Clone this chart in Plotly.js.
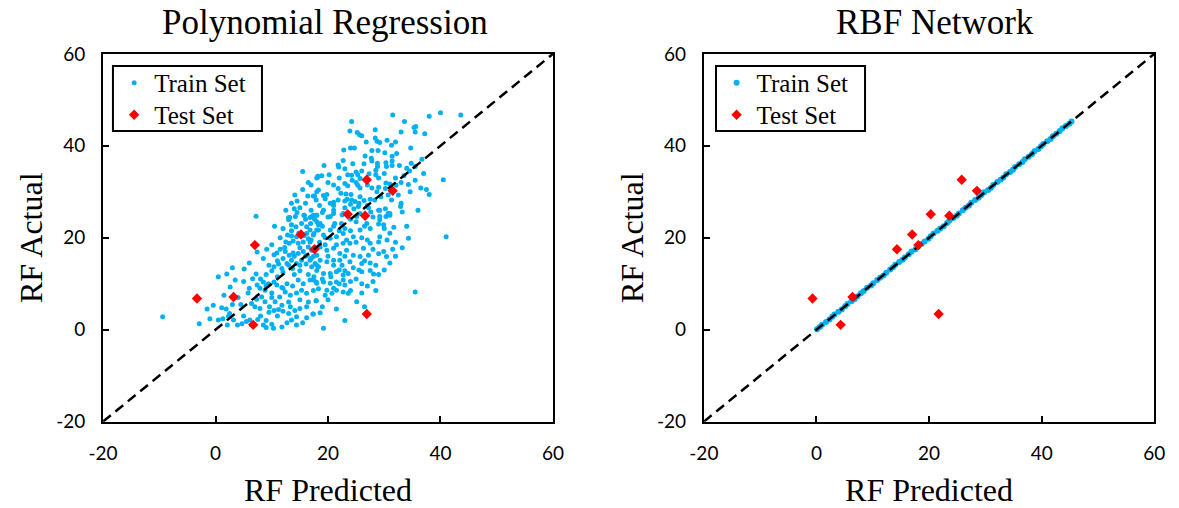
<!DOCTYPE html>
<html>
<head>
<meta charset="utf-8">
<script src="https://cdn.plot.ly/plotly-3.0.1.min.js"></script>
<style>html,body{margin:0;padding:0;background:#fff;}#chart{width:1179px;height:508px;}</style>
</head>
<body>
<div id="chart"></div>
<script>
// ---- Data ----
const titles = ["Polynomial Regression", "RBF Network"];
const axisLabelX = "RF Predicted";
const axisLabelY = "RF Actual";
const tickValues = [-20, 0, 20, 40, 60];
const tickLabels = ["-20", "0", "20", "40", "60"];
const refLine = [-20, 60];

// Polynomial regression, training set: [predicted, actual]
const polyTrain = [
[15.5,34.4],[18.1,33.1],[14.1,29.3],[14.5,28.0],[16.4,29.1],[17.6,29.1],[14.0,26.3],[7.2,24.7],[15.8,24.9],[17.4,24.9],[13.2,24.4],
[31.5,46.7],[38.0,46.4],[40.0,47.2],[43.6,46.7],[24.2,45.3],[33.6,45.3],[35.3,44.0],[35.6,44.2],[28.4,43.5],[23.9,43.2],[25.2,42.9],[25.6,42.4],[26.0,42.2],[33.0,43.0],[35.5,43.0],[37.2,42.6],[28.4,41.7],[26.8,40.8],[28.7,41.0],[29.2,40.7],[30.5,41.2],[32.0,40.8],[22.8,39.1],[24.0,39.5],[24.7,39.5],[27.8,39.0],[28.9,39.0],[31.3,40.1],[34.7,39.5],[30.1,38.5],[32.2,38.3],[26.6,37.8],[27.7,37.3],[27.8,36.7],[28.8,36.2],[30.3,36.3],[31.4,37.7],[31.4,36.7],[22.7,36.8],[21.8,35.8],[21.9,35.4],[24.4,36.1],[26.4,36.1],[19.3,35.7],[28.8,35.5],[28.5,34.7],[30.4,35.5],[31.4,35.7],[32.7,35.7],[34.8,36.2],[36.7,37.1],[34.0,35.1],[34.5,34.5],[35.5,35.5],[20.2,33.7],[18.0,33.0],[18.2,33.4],[18.9,33.5],[23.5,33.7],[24.2,33.6],[25.0,34.3],[25.3,33.7],[25.7,32.9],[27.3,33.9],[24.3,32.5],[23.0,31.8],[23.5,31.3],[25.0,32.0],[25.3,31.4],[25.7,30.8],[28.5,33.7],[30.3,31.9],[31.0,31.7],[30.2,30.7],[32.1,31.4],[27.8,30.8],[29.0,31.0],[28.7,30.0],[34.3,31.6],[34.6,30.0],[36.5,30.8],[37.5,30.5],[38.0,29.4],[40.5,32.6],[18.3,30.4],[19.2,29.2],[19.8,29.4],[21.8,30.7],[22.3,29.7],[23.2,29.5],[24.1,29.4],[17.4,29.1],[17.9,28.2],[20.4,27.5],[21.0,27.7],[21.8,28.2],[23.0,28.0],[23.4,28.4],[24.2,28.2],[25.7,28.9],[26.4,28.1],[27.5,28.4],[28.3,28.2],[29.4,28.9],[30.7,29.3],[31.3,28.2],[32.5,29.3],[30.2,26.3],[31.0,25.3],[32.9,26.8],[33.2,25.6],[29.0,26.0],[29.2,24.6],[19.2,26.0],[18.0,24.9],[16.8,24.4],[20.4,24.6],[21.0,25.3],[22.7,25.3],[24.6,26.3],[25.4,26.8],[25.7,25.3],[27.2,26.5],[27.6,25.6],[24.0,27.3],[24.8,27.9],
[13.0,24.4],[14.2,24.6],[15.7,24.9],[17.2,24.7],[18.0,24.9],[13.0,23.9],[13.5,22.8],[14.3,22.4],[15.3,23.1],[16.2,22.4],[16.9,23.1],[17.6,24.0],[18.3,22.8],[12.8,20.6],[13.5,20.4],[14.4,20.2],[12.5,19.1],[13.1,18.8],[12.3,17.9],[13.8,19.3],[14.7,18.8],[15.6,19.1],[16.5,19.8],[16.2,20.9],[16.8,21.7],[17.5,20.9],[18.3,21.7],[9.1,17.5],[10.9,16.7],[10.4,16.3],[11.5,17.5],[12.4,17.0],[13.1,16.2],[13.8,16.7],[14.7,16.6],[15.6,17.0],[16.3,16.2],[17.1,17.3],[18.0,16.2],[7.4,16.9],[11.2,14.3],[10.4,13.7],[11.8,13.3],[10.0,12.8],[12.7,14.4],[13.5,15.1],[14.4,14.4],[13.7,13.3],[15.3,15.1],[16.1,14.3],[16.8,15.1],[17.7,14.4],[18.3,13.7],[5.1,13.2],[2.0,12.1],[7.2,12.1],[6.6,11.1],[8.5,10.4],[9.4,10.0],[10.4,10.4],[7.4,9.7],[7.9,9.0],[8.8,8.6],[10.9,9.7],[11.8,9.2],[12.7,10.0],[13.7,9.5],[14.7,10.8],[15.6,10.0],[16.8,10.8],[17.9,10.4],[12.4,8.2],[13.3,7.5],[14.4,8.0],[15.3,8.6],[16.2,7.9],[17.4,8.5],[18.3,8.9],[2.6,9.3],[5.8,8.0],[7.3,6.6],[8.2,7.1],[8.8,6.1],[10.0,7.0],[10.6,6.1],[11.4,7.1],[-0.4,5.3],[1.1,4.8],[1.9,4.5],[6.4,5.7],[7.0,5.0],[7.9,4.6],[9.6,5.0],[10.4,4.2],[11.2,4.4],[11.8,5.3],[13.3,5.0],[14.1,4.2],[15.0,4.6],[16.2,5.0],[17.9,6.3],[13.0,3.5],[14.4,2.8],[16.2,2.6],[17.4,3.4],[-1.0,2.4],[0.5,2.1],[1.3,2.4],[2.1,1.0],[-2.9,1.3],[-9.4,2.8],[3.9,1.0],[4.7,1.3],[6.1,2.1],[6.4,1.0],[8.5,1.0],[10.0,1.2],[10.3,0.3],[11.8,0.6],[14.4,1.0],[13.5,2.1],[12.7,1.5],[2.3,2.9],[3.2,2.1],
[30.7,25.3],[29.2,26.0],[30.3,24.6],[31.0,24.9],[31.7,22.3],[29.2,23.9],[29.9,22.8],[34.3,19.9],[41.0,20.2],[33.2,17.8],[29.2,20.2],[29.0,19.1],[29.9,17.0],[30.4,15.9],[27.5,18.8],[26.3,17.7],[27.2,16.2],[25.7,15.9],[26.0,14.4],[27.5,12.9],[28.1,12.1],[26.0,12.6],[23.9,18.8],[24.5,20.2],[22.7,20.9],[21.2,23.1],[20.4,21.7],[22.4,23.1],[25.1,24.6],[26.9,23.1],[25.7,21.7],[18.6,23.1],[18.0,21.7],[19.2,20.6],[17.4,20.6],[16.8,19.1],[20.4,19.9],[21.5,20.2],[22.7,18.8],[23.3,19.5],[18.6,18.0],[19.8,17.3],[21.0,17.7],[22.1,16.6],[23.3,17.3],[17.4,15.9],[18.6,15.1],[19.8,14.8],[21.0,15.1],[22.1,15.1],[23.9,14.8],[24.5,16.2],[17.1,13.7],[18.0,12.9],[19.2,12.2],[20.4,12.2],[21.5,12.6],[22.7,11.9],[23.6,12.2],[17.4,10.8],[18.0,10.1],[19.2,10.4],[20.4,10.1],[21.5,10.4],[22.7,10.8],[19.8,8.6],[19.5,7.5],[20.7,7.9],[21.5,8.6],[22.7,8.2],[23.6,7.9],[23.0,9.7],[25.1,6.1],[17.9,6.3],[35.5,8.2],[17.3,3.4],[18.6,3.7],[19.2,0.3],
[12,22],[13.5,21.5],[14.8,21],[15.8,20.5],[17,19.5],[18.5,19],[19.5,18.5],[20,16],[21,14],[22,13],[16.5,18],[15,17.8],[14,16],[12,15.5],[11,15],[9.5,14],[9,12],[8,11],[11,11.5],[12,12.5],[14,12],[15,12.8],[16.5,12],[17.5,11.5],[19,11],[20.5,11.5],[22,10],[23,12.8],[24,10.5],[25,11],[26,10],[24.5,13.5],[25.5,13],[26.5,15],[27.5,14.5],[28.5,14],[29,16.5],[28,17.5],[27,19.5],[26,20],[25,19],[24,21.5],[23,22],[22,21.5],[21,22.5],[20,24.5],[19,25.5],[18.5,27],[17,26],[16,27.5],[15,26.5],[14.5,25.5],[16,24],[19.5,20],[21.5,18.5],[23,16],[22.5,14],[18,14],[17,15.5],[16,16],[15,14],[13,14],[12,9],[10,8],[9,9.5],[6,9],[5,10.5],[4,7],[3,5.5],[2.5,3.5],[5,3],[8,3],[9,2],[11,3],[13,6],[15,6.5],[16.5,6],[19,5],[20,6.5],[21,9],[24,8.5],[26,8],[27,9.5],[28,10.5],[29,12],[30,13],[31,14.5],[32,16],[32,19],[31,21],[30,22],[29,23],[28,24.5],[27.5,22],[26.5,22.5],[25,23.5],[24,24],[22.5,25],[21,27],[19.5,28.5],[18,30],[17,31.5],[20,32],[22,33],[26,34.5],[29,33],[32,33],[33,32],[27,27],[25.5,27.5],[23,26.5],[21,26],[19,22.5],[18,23.5],
[0.5,11.5],[3.5,10.8],[1.5,7.5],[-1.5,4.5],[4.5,5.5],[5.5,1.8],[7.5,2.2],[9.5,3.8],[12,4],[3,13.5],[6,14.5],[8.5,15.5],[10,18.5],[11.5,20],[10.5,22.5],[12.5,26],[13.5,27.5],[15.5,30.5],[16.5,32],[21,31.5],[23,35],[27,31.5],[30,34],[33.5,33.5],[35.5,32.5],[33,27.5],[34,22.5],[36,26],[37,34],[30.5,19.5],[31.5,17.5],[28.5,8.5],[26.5,5],[21.5,4.5],[23,2],[15.5,1.5],[9,0.5]
];

// Test set (same actual values in both panels)
const testActual   = [6.8, 7.1, 18.4, 1.05, 20.7, 17.5, 25.1, 24.8, 32.6, 30.2, 3.4];
const testPolyPred = [-3.3, 3.2, 7.0, 6.7, 15.2, 17.6, 23.5, 26.6, 26.9, 31.5, 26.9];
const testRbfPred  = [-0.7, 6.4, 18.1, 4.3, 17.0, 14.3, 20.3, 23.6, 25.8, 28.5, 21.7];

// RBF network, training set (lies on the diagonal)
const rbfTrainPred   = [0.1,0.6,1.0,1.7,2.3,2.8,3.2,3.9,4.5,5.1,5.5,6.2,6.8,7.3,7.9,8.4,9.0,9.7,10.1,10.8,11.3,11.9,12.4,13.1,13.6,14.0,14.7,15.3,15.7,16.4,16.9,17.6,18.0,18.7,19.2,19.9,20.3,20.8,21.5,22.0,22.6,23.2,23.6,24.3,24.9,25.3,26.0,26.5,27.1,27.5,28.2,28.8,29.3,29.8,30.5,31.0,31.4,32.1,32.7,33.2,33.7,34.4,34.9,35.3,36.0,36.6,37.0,37.7,38.3,38.7,39.4,39.9,40.3,41.0,41.6,42.0,42.6,43.2,43.7,44.3,44.9,45.3];
const rbfTrainActual = [0.1,0.6,1.1,1.7,2.2,2.8,3.3,3.9,4.4,5.1,5.6,6.2,6.7,7.3,7.9,8.4,9.1,9.6,10.1,10.8,11.3,11.8,12.4,13.1,13.6,14.1,14.7,15.2,15.7,16.4,17.0,17.5,18.0,18.7,19.2,19.8,20.3,20.9,21.5,22.0,22.5,23.2,23.7,24.3,24.8,25.3,26.0,26.5,27.0,27.6,28.2,28.7,29.3,29.9,30.4,30.9,31.5,32.1,32.6,33.1,33.8,34.3,34.8,35.4,36.0,36.5,37.1,37.6,38.2,38.8,39.3,39.9,40.4,41.0,41.5,42.1,42.6,43.2,43.8,44.3,44.8,45.3];

// ---- Styling ----
const blue = "#00B0F0";
const red = "#FF0000";
const serif = "Liberation Serif, Times New Roman, serif";
const sans = "Lato, Carlito, Calibri, sans-serif";

const traces = [
  {x: polyTrain.map(p => p[0]), y: polyTrain.map(p => p[1]), type: "scatter", mode: "markers",
   name: "Train Set", marker: {color: blue, size: 5}, xaxis: "x", yaxis: "y", legend: "legend"},
  {x: testPolyPred, y: testActual, type: "scatter", mode: "markers", name: "Test Set",
   marker: {color: red, size: 8, symbol: "diamond"}, xaxis: "x", yaxis: "y", legend: "legend2"},
  {x: refLine, y: refLine, type: "scatter", mode: "lines", showlegend: false, hoverinfo: "skip",
   line: {color: "black", width: 2.5, dash: "10px,6px"}, xaxis: "x", yaxis: "y"},

  {x: rbfTrainPred, y: rbfTrainActual, type: "scatter", mode: "markers", name: "Train Set",
   marker: {color: blue, size: 6}, xaxis: "x2", yaxis: "y2", legend: "legend3"},
  {x: refLine, y: refLine, type: "scatter", mode: "lines", showlegend: false, hoverinfo: "skip",
   line: {color: "black", width: 2.5, dash: "10px,6px"}, xaxis: "x2", yaxis: "y2"},
  {x: testRbfPred, y: testActual, type: "scatter", mode: "markers", name: "Test Set",
   marker: {color: red, size: 8, symbol: "diamond"}, xaxis: "x2", yaxis: "y2", legend: "legend4"}
];

function xAxis(domain, anchor) {
  return {domain: domain, anchor: anchor, range: [-20, 60], tickmode: "array", tickvals: tickValues, ticktext: tickLabels,
    ticks: "inside", ticklen: 6, tickwidth: 2, tickcolor: "black",
    showline: true, linewidth: 2, linecolor: "black", mirror: true,
    showgrid: false, zeroline: false, ticklabelstandoff: 14,
    tickfont: {family: sans, size: 19, color: "black"},
    title: {text: axisLabelX, font: {family: serif, size: 32, color: "black"}, standoff: 15}};
}
function yAxis(domain, anchor) {
  return {domain: domain, anchor: anchor, range: [-20, 60], tickmode: "array", tickvals: tickValues, ticktext: tickLabels,
    ticks: "inside", ticklen: 6, tickwidth: 2, tickcolor: "black",
    showline: true, linewidth: 2, linecolor: "black", mirror: true,
    showgrid: false, zeroline: false, ticklabelstandoff: 12,
    tickfont: {family: sans, size: 19, color: "black"},
    title: {text: axisLabelY, font: {family: serif, size: 32, color: "black"}, standoff: 4}};
}
// one legend entry per legend so the two rows can sit as close as in the reference
function legendAt(x, y) {
  return {x: x, y: y, xanchor: "left", yanchor: "top", bgcolor: "rgba(0,0,0,0)",
    borderwidth: 0, tracegroupgap: 0, itemwidth: 30,
    font: {family: serif, size: 25, color: "black"}};
}
function legendFrame(x0, x1) {
  return {type: "rect", xref: "paper", yref: "paper", x0: x0, x1: x1, y0: 0.742, y1: 0.870,
    line: {color: "black", width: 2}, fillcolor: "white", layer: "above"};
}

const yDom = [0.170, 0.894];
const rowTop = [0.882, 0.819];
const layout = {
  width: 1179, height: 508, paper_bgcolor: "white", plot_bgcolor: "white",
  margin: {l: 0, r: 0, t: 0, b: 0},
  showlegend: true,
  xaxis: xAxis([0.0874, 0.469], "y"),
  yaxis: yAxis(yDom, "x"),
  xaxis2: xAxis([0.597, 0.979], "y2"),
  yaxis2: yAxis(yDom, "x2"),
  legend: legendAt(0.0968, rowTop[0]),
  legend2: legendAt(0.0968, rowTop[1]),
  legend3: legendAt(0.6078, rowTop[0]),
  legend4: legendAt(0.6078, rowTop[1]),
  shapes: [legendFrame(0.0958, 0.2222), legendFrame(0.6073, 0.7337)],
  annotations: [
    {text: titles[0], xref: "paper", yref: "paper", x: 0.2757, y: 0.955, xanchor: "center", yanchor: "middle",
     showarrow: false, font: {family: serif, size: 35, color: "black"}},
    {text: titles[1], xref: "paper", yref: "paper", x: 0.793, y: 0.955, xanchor: "center", yanchor: "middle",
     showarrow: false, font: {family: serif, size: 35, color: "black"}}
  ]
};

Plotly.newPlot("chart", traces, layout, {staticPlot: true, displayModeBar: false});
</script>
</body>
</html>
